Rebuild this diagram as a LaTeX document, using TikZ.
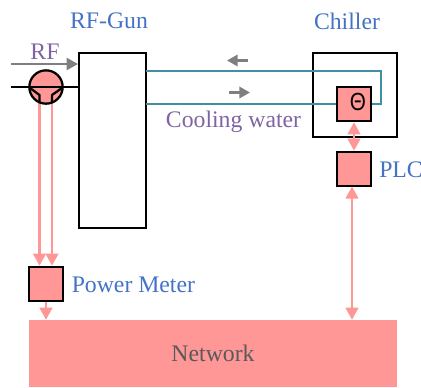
\documentclass[tikz,border=0pt]{standalone}
\usepackage{fontspec}
\setmainfont{Liberation Serif}
\newfontfamily\thetafont{Liberation Sans}
\usetikzlibrary{arrows.meta}
\definecolor{pk}{HTML}{FF9797}
\definecolor{bl}{HTML}{4472C4}
\definecolor{pu}{HTML}{8064A2}
\definecolor{te}{HTML}{3F8FA5}
\definecolor{gy}{HTML}{7F7F7F}
\definecolor{dk}{HTML}{595959}
\tikzset{
  x=0.75pt,y=-0.75pt,
  pkbox/.style={draw=black,fill=pk,line width=2pt,minimum size=25.5pt,inner sep=0pt},
  frame/.style={draw=black,fill=white,line width=1.7pt,inner sep=0pt},
  lbl/.style={text=bl,font=\fontsize{17.8}{18}\selectfont,inner sep=0pt},
  plbl/.style={text=pu,font=\fontsize{17.8}{18}\selectfont,inner sep=0pt},
  sigb/.style={draw=pk,line width=1.6pt,{Triangle[length=9pt,width=9.5pt]}-{Triangle[length=9pt,width=9.5pt]}},
  sigo/.style={draw=pk,line width=1.6pt,-{Triangle[length=9pt,width=9.5pt]}},
  gar/.style={draw=gy,line width=1.7pt,-{Triangle[length=8.5pt,width=9pt]}},
  gars/.style={draw=gy,line width=1.8pt,-{Triangle[length=8pt,width=8.5pt]}},
  pipe/.style={draw=te,line width=2pt}
}
\begin{document}
\begin{tikzpicture}
\useasboundingbox (0,0) rectangle (421,387);
% boxes
\node[frame,minimum width=50.25pt,minimum height=131.25pt] (gun) at (112.5,140.5) {};
\node[frame,minimum size=63pt] (chiller) at (355,95) {};
\node[draw=none,fill=pk,minimum width=276pt,minimum height=50.25pt,inner sep=0pt,text=dk,font=\fontsize{17.8}{18}\selectfont] (net) at (213,353.5) {Network};
% free ends
\coordinate (rfstart) at (11,64);
\coordinate (rfend) at (78,64);
\coordinate (linestart) at (11,87);
\coordinate (lineend) at (79,87);
\coordinate (topin) at (146,71);
\coordinate (topcorner) at (381,71);
\coordinate (botcorner) at (381,104);
\coordinate (botin) at (146,104);
\coordinate (a1s) at (248,60.5);
\coordinate (a1e) at (227,60.5);
\coordinate (a2s) at (229,92.5);
\coordinate (a2e) at (250,92.5);
\coordinate (t1) at (39.5,103);
\coordinate (t2) at (52,103);
% pipes
\node[pkbox,anchor=center] (theta) at (354,104) {};
\node[inner sep=0pt,font=\thetafont\fontsize{15.5}{16}\selectfont] (thetal) at (358,102) {\scalebox{1}[1.2]{Θ}};
\draw[pipe] (topin) -- (topcorner) -- (botcorner) -- (theta.east);
\draw[pipe] (botin) -- (theta.west);
\draw[gars] (a1s) -- (a1e);
\draw[gars] (a2s) -- (a2e);
% boxes below
\node[pkbox] (plc) at (354,169) {};
\node[pkbox] (pm) at (46,284) {};
% signals
\draw[sigo] (t1) -- (t1 |- pm.north);
\draw[sigo] (t2) -- (t2 |- pm.north);
\draw[sigo] (pm.south) -- (pm.south |- net.north);
\draw[sigb] (theta.south) -- (plc.north);
\coordinate (plcout) at (352,186.5);
\draw[sigb] (plcout) -- (plcout |- net.north);
% RF part
\draw[gar] (rfstart) -- (rfend);
\node[circle,draw=black,fill=pk,line width=1.7pt,minimum size=25pt,inner sep=0pt] (mix) at (46,87) {};
\draw[black,line width=1.7pt] (linestart) -- (lineend);
\draw[black,line width=1.7pt,line join=round] (30,88) -- (39.5,95) -- (t1);
\draw[black,line width=1.7pt,line join=round] (62,88) -- (52,95) -- (t2);
% labels
\node[plbl] (rf) at (45,52) {RF};
\node[lbl] (gunl) at (109,21) {RF-Gun};
\node[lbl] (chl) at (347,21) {Chiller};
\node[lbl,anchor=west] (plcl) at (379,170) {PLC};
\node[lbl,anchor=west] (pml) at (71.5,285) {Power Meter};
\node[plbl] (cw) at (233.5,122) {Cooling water};
\end{tikzpicture}
\end{document}
